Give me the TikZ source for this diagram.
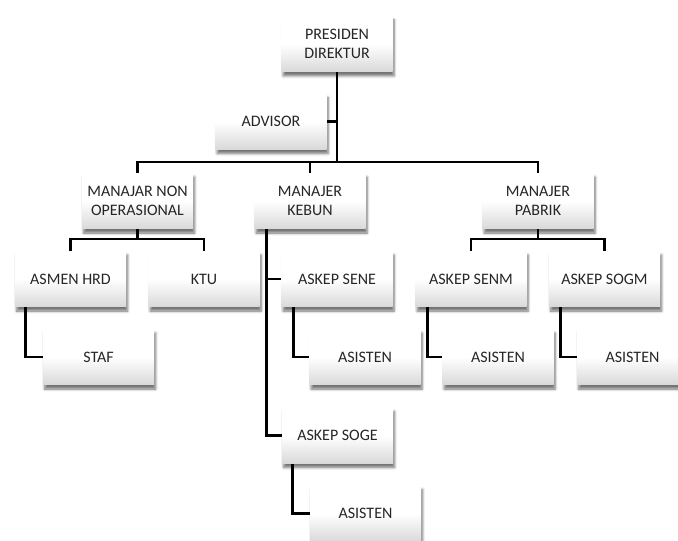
\documentclass[tikz,border=0pt]{standalone}
\usepackage{fontspec}
\setmainfont{Carlito}
\usepackage{tikz}
\usetikzlibrary{calc,shapes,positioning}
\usetikzlibrary{shadows,shadows.blur}

\begin{document}
\begin{tikzpicture}[x=0.75pt,y=0.75pt]
    \tikzstyle{onode} = [rectangle, align=center, minimum width=83.25pt, minimum height=42pt, inner sep=2pt, top color=white, bottom color=black!15, middle color=white, blur shadow={shadow xshift=1.2pt, shadow yshift=-3pt, shadow blur steps=6, shadow opacity=55}, text=black!85, font=\fontsize{12}{14}\selectfont]
    \tikzstyle{link} = [line width=2.2pt, black]
    \useasboundingbox (0,0) rectangle (678,-541);

    \node[onode] (pd) at (337,-44) {PRESIDEN\\DIREKTUR};
    \node[onode] (adv) at (271,-121.5) {ADVISOR};

    \node[onode] (mno) at (137.5,-201) {MANAJAR NON\\OPERASIONAL};
    \node[onode] (mkb) at (310,-201) {MANAJER\\KEBUN};
    \node[onode] (mpb) at (538,-201) {MANAJER\\PABRIK};

    \node[onode] (hrd) at (70.5,-279) {ASMEN HRD};
    \node[onode] (ktu) at (204,-279) {KTU};
    \node[onode] (sene) at (337,-279) {ASKEP SENE};
    \node[onode] (senm) at (471,-279) {ASKEP SENM};
    \node[onode] (sogm) at (604.5,-279) {ASKEP SOGM};

    \node[onode] (staf) at (98.5,-357) {STAF};
    \node[onode] (as1) at (365,-357) {ASISTEN};
    \node[onode] (as2) at (498,-357) {ASISTEN};
    \node[onode] (as3) at (632.5,-357) {ASISTEN};

    \node[onode] (soge) at (337.5,-435.5) {ASKEP SOGE};
    \node[onode] (as4) at (365.5,-513.5) {ASISTEN};

    \coordinate (bus) at (337,-162);
    \coordinate (nob) at (137.5,-239);
    \coordinate (pbb) at (538,-239);

    \draw[link] (pd) -- (bus);
    \draw[link] (adv) -- (adv -| pd);
    \draw[link] (mno) |- (bus) -| (mpb);
    \draw[link] (mkb) -- (mkb |- bus);

    \draw[link] (mno) -- (nob);
    \draw[link] (hrd) |- (nob) -| (ktu);
    \draw[link] ([xshift=8.25pt]hrd.south west) |- (staf.west);

    \draw[link] ([xshift=9pt]mkb.south west) |- (sene.west);
    \draw[link] ([xshift=9pt]mkb.south west) |- (soge.west);
    \draw[link] ([xshift=9pt]sene.south west) |- (as1.west);
    \draw[link] ([xshift=8.25pt]soge.south west) |- (as4.west);

    \draw[link] (mpb) -- (pbb);
    \draw[link] (senm) |- (pbb) -| (sogm);
    \draw[link] ([xshift=9pt]senm.south west) |- (as2.west);
    \draw[link] ([xshift=9pt]sogm.south west) |- (as3.west);

  \end{tikzpicture}
\end{document}
